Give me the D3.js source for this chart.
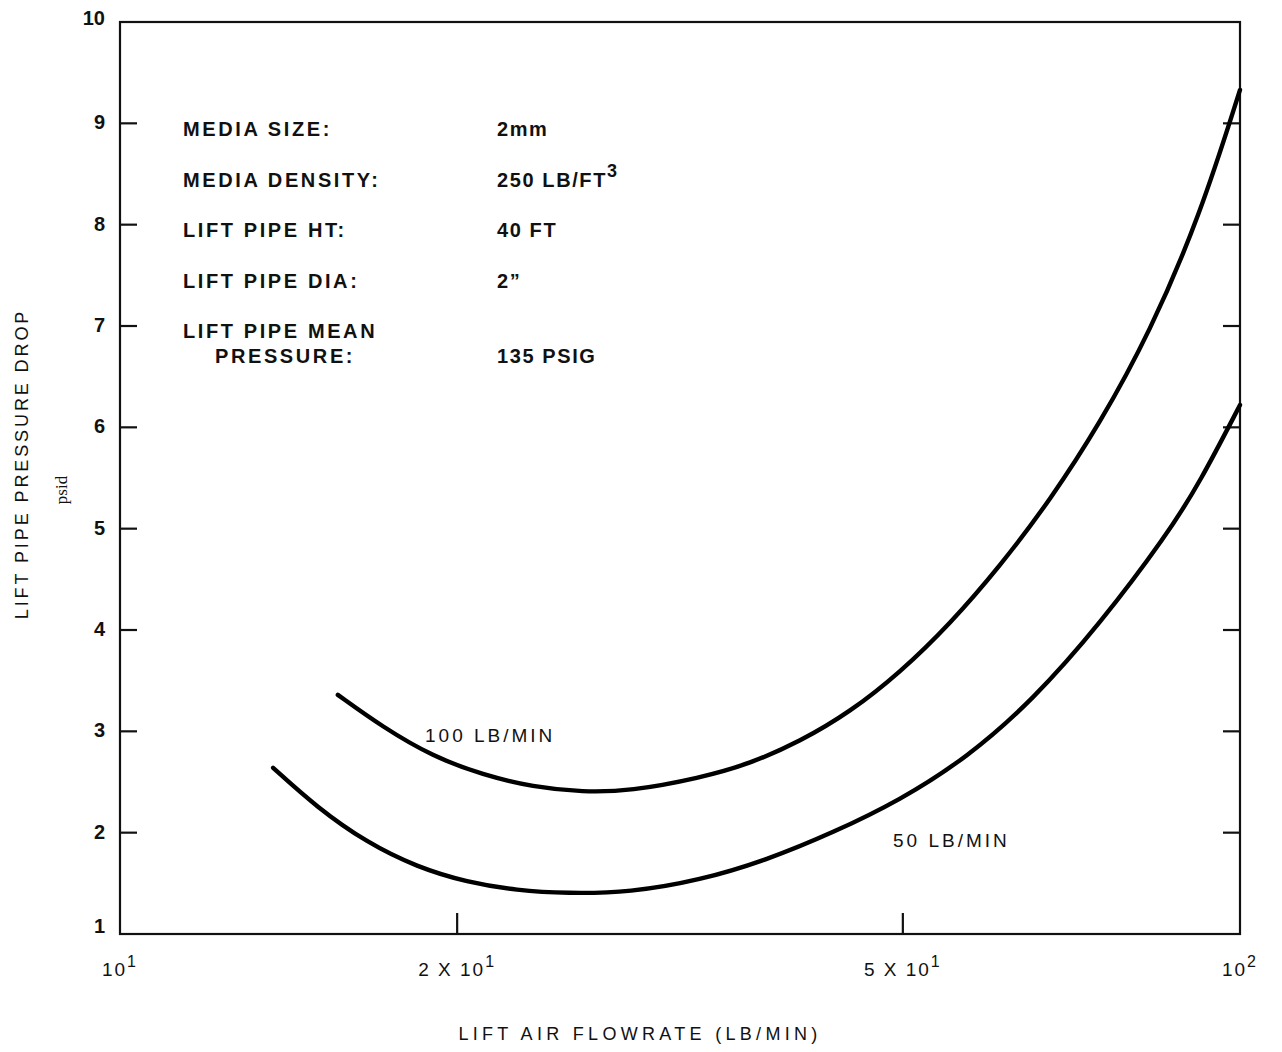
<!DOCTYPE html>
<html><head><meta charset="utf-8">
<script src="https://cdn.jsdelivr.net/npm/d3@7"></script>
<style>body{margin:0;background:#fff}</style>
</head><body><svg id="c" width="1282" height="1052"></svg>
<script>
// ---- data ----
const yTickValues = [1,2,3,4,5,6,7,8,9,10];
const yInnerTicks = [2,3,4,5,6,7,8,9];
const xMinorTicks = [20,50];
const xTickValues = [10,20,50,100];
const xTickBase = ["10","2 X 10","5 X 10","10"];
const xTickSup = ["1","1","1","2"];

const flow100 = [15.65,17.17,19.03,21.09,23.38,25.91,28.53,32.95,36.52,40.47,44.85,49.71,55.09,61.05,67.67,74.99,83.11,92.11,100];
const drop100 = [3.36,3.04,2.75,2.57,2.45,2.40,2.41,2.54,2.68,2.90,3.19,3.58,4.06,4.63,5.28,6.04,6.94,8.09,9.33];

const flow50 = [13.70,14.99,16.62,18.42,20.41,22.62,25.07,28.53,32.95,37.81,43.31,49.71,57.05,65.35,74.99,86.07,92.11,100];
const drop50 = [2.64,2.25,1.90,1.66,1.51,1.43,1.40,1.41,1.53,1.73,2.00,2.32,2.74,3.31,4.06,4.94,5.46,6.22];

const infoLabels = ["MEDIA SIZE:","MEDIA DENSITY:","LIFT PIPE HT:","LIFT PIPE DIA:","LIFT PIPE MEAN"];
const infoValues = ["2mm","250 LB/FT","40 FT","2\u201D",""];
const infoValueSup = ["","3","","",""];

// ---- layout ----
const svg = d3.select("#c");
const L=120, R=1240, T=22, B=934;
const x = d3.scaleLog().domain([10,100]).range([L,R]);
const y = d3.scaleLinear().domain([1,10]).range([B,T]);
const sans = "'Liberation Sans', Arial, Helvetica, sans-serif";

svg.append("rect").attr("width",1282).attr("height",1052).attr("fill","#fff");

// frame
svg.append("rect").attr("x",L).attr("y",T).attr("width",R-L).attr("height",B-T)
  .attr("fill","none").attr("stroke","#111").attr("stroke-width",2.2);

// left ticks
svg.append("g").selectAll("line").data(yInnerTicks).join("line")
  .attr("x1",L).attr("x2",L+17).attr("y1",d=>y(d)).attr("y2",d=>y(d))
  .attr("stroke","#111").attr("stroke-width",2.2);
// right ticks
svg.append("g").selectAll("line").data(yInnerTicks).join("line")
  .attr("x1",R).attr("x2",R-17).attr("y1",d=>y(d)).attr("y2",d=>y(d))
  .attr("stroke","#111").attr("stroke-width",2.2);
// bottom ticks
svg.append("g").selectAll("line").data(xMinorTicks).join("line")
  .attr("x1",d=>x(d)).attr("x2",d=>x(d)).attr("y1",B).attr("y2",B-21)
  .attr("stroke","#111").attr("stroke-width",2.2);

// y tick labels
svg.append("g").selectAll("text").data(yTickValues).join("text")
  .attr("x",105).attr("y",d=>y(d)+ (d===10?3:(d===1?-1:6))).attr("text-anchor","end")
  .attr("font-family",sans).attr("font-weight","bold").attr("font-size",20)
  .attr("fill","#111").text(d=>d);

// x tick labels
const xl = svg.append("g").selectAll("text").data(xTickValues).join("text")
  .attr("x",d=>x(d)).attr("y",976).attr("text-anchor","middle")
  .attr("font-family",sans).attr("font-size",19).attr("letter-spacing",2)
  .attr("fill","#111");
xl.append("tspan").text((d,i)=>xTickBase[i]);
xl.append("tspan").attr("dy",-9).attr("font-size",16).text((d,i)=>xTickSup[i]);

// axis titles
svg.append("text").attr("x",640).attr("y",1040).attr("text-anchor","middle")
  .attr("font-family",sans).attr("font-size",18).attr("letter-spacing",4.3)
  .attr("fill","#111").text("LIFT AIR FLOWRATE (LB/MIN)");
svg.append("text").attr("transform","translate(28,464) rotate(-90)").attr("text-anchor","middle")
  .attr("font-family",sans).attr("font-size",18).attr("letter-spacing",2.9)
  .attr("fill","#111").text("LIFT PIPE PRESSURE DROP");
svg.append("text").attr("transform","translate(67,490) rotate(-90)").attr("text-anchor","middle")
  .attr("font-family","'Liberation Serif', 'DejaVu Serif', serif").attr("font-size",17)
  .attr("fill","#111").text("psid");

// info block
const rowY = [136,187,237,288,338];
const info = svg.append("g").attr("font-family",sans).attr("font-weight","bold")
  .attr("font-size",20).attr("letter-spacing",2.6).attr("fill","#111");
info.selectAll("text.lab").data(infoLabels).join("text").attr("class","lab")
  .attr("x",183).attr("y",(d,i)=>rowY[i]).text(d=>d);
const iv = info.selectAll("text.val").data(infoValues).join("text").attr("class","val")
  .attr("x",497).attr("y",(d,i)=>rowY[i]).attr("letter-spacing",1.6);
iv.append("tspan").text(d=>d);
iv.append("tspan").attr("dy",-10).attr("font-size",18).text((d,i)=>infoValueSup[i]);
info.append("text").attr("x",215).attr("y",363).text("PRESSURE:");
info.append("text").attr("x",497).attr("y",363).attr("letter-spacing",1.6).text("135 PSIG");

// curves
const line = d3.line().x(d=>x(d[0])).y(d=>y(d[1])).curve(d3.curveBasis);
svg.append("path").datum(d3.zip(flow100,drop100)).attr("d",line)
  .attr("fill","none").attr("stroke","#000").attr("stroke-width",4.4).attr("stroke-linecap","round");
svg.append("path").datum(d3.zip(flow50,drop50)).attr("d",line)
  .attr("fill","none").attr("stroke","#000").attr("stroke-width",4.4).attr("stroke-linecap","round");

// curve labels
svg.append("text").attr("x",425).attr("y",742)
  .attr("font-family",sans).attr("font-size",19).attr("letter-spacing",3)
  .attr("fill","#111").text("100 LB/MIN");
svg.append("text").attr("x",893).attr("y",847)
  .attr("font-family",sans).attr("font-size",19).attr("letter-spacing",3)
  .attr("fill","#111").text("50 LB/MIN");
</script>
</body></html>
